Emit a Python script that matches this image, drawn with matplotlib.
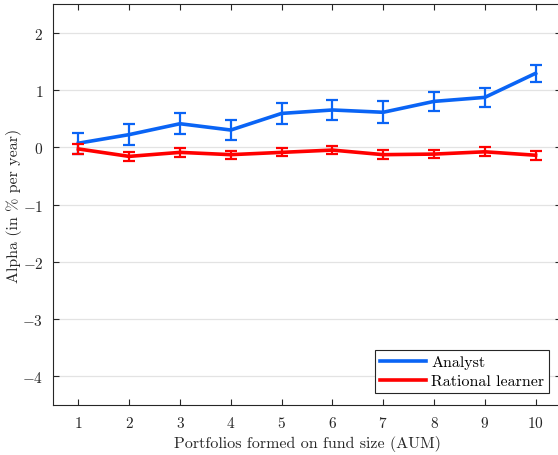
import matplotlib
matplotlib.use("Agg")
import matplotlib.pyplot as plt
from matplotlib.lines import Line2D

plt.rcParams['font.family'] = 'serif'
plt.rcParams['font.serif'] = ['cmr10']
plt.rcParams['mathtext.fontset'] = 'cm'
plt.rcParams['axes.formatter.use_mathtext'] = True

portfolios = [1, 2, 3, 4, 5, 6, 7, 8, 9, 10]
analyst = [0.07, 0.22, 0.41, 0.30, 0.59, 0.65, 0.61, 0.80, 0.87, 1.29]
analyst_err = [0.18, 0.19, 0.18, 0.17, 0.19, 0.17, 0.19, 0.17, 0.16, 0.15]
rational = [-0.03, -0.16, -0.09, -0.13, -0.09, -0.05, -0.13, -0.12, -0.08, -0.14]
rational_err = [0.09, 0.08, 0.08, 0.07, 0.07, 0.07, 0.08, 0.07, 0.08, 0.08]
yticks = [-4, -3, -2, -1, 0, 1, 2]

fig = plt.figure(figsize=(5.58, 4.56), dpi=100)
ax = fig.add_axes([53/558, 50/456, 508/558, 401/456])

blue = '#0a64f5'
red = '#ff0000'
ax.errorbar(portfolios, analyst, yerr=analyst_err, color=blue, lw=2.6,
            elinewidth=1.6, capsize=4, capthick=1.6, zorder=3)
ax.errorbar(portfolios, rational, yerr=rational_err, color=red, lw=2.6,
            elinewidth=1.6, capsize=4, capthick=1.6, zorder=4)

ax.set_xlim(0.5, 10.5)
ax.set_ylim(-4.5, 2.5)
ax.set_xticks(portfolios)
ax.set_yticks(yticks)
ax.yaxis.grid(True, color='#e3e3e3', lw=0.9)
ax.set_axisbelow(True)
ax.tick_params(direction='in', length=4, width=0.8, top=True, right=True,
               labelsize=11, colors='#262626', pad=7)
for s in ax.spines.values():
    s.set_color('#262626')
    s.set_linewidth(0.8)

ax.set_xlabel('Portfolios formed on fund size (AUM)', fontsize=11.5, color='#262626', labelpad=4)
ax.set_ylabel('Alpha (in % per year)', fontsize=11.5, color='#262626')
ax.yaxis.set_label_coords((22 - 53) / 508, 0.5)

handles = [Line2D([], [], color=blue, lw=2.6), Line2D([], [], color=red, lw=2.6)]
leg = ax.legend(handles, ['Analyst', 'Rational learner'], loc='lower right',
                bbox_to_anchor=((549 - 53) / 508, (406 - 394) / 401),
                borderaxespad=0, fancybox=False, framealpha=1, edgecolor='#262626',
                fontsize=11.5, handlelength=2.9, handletextpad=0.3, borderpad=0.3,
                labelspacing=0.3)
leg.get_frame().set_linewidth(0.8)

fig.savefig('out.png', dpi=100)
